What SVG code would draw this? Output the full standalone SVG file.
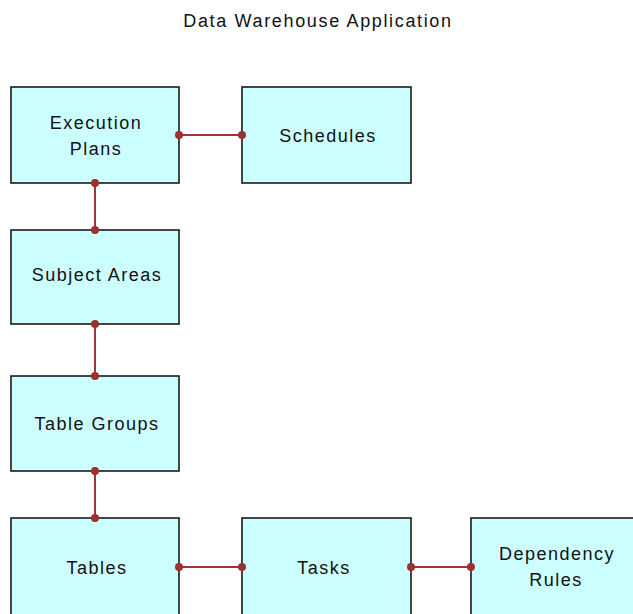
<svg xmlns="http://www.w3.org/2000/svg" width="633" height="614" viewBox="0 0 633 614">
<style>
.box{fill:#ccffff;stroke:#1a1a1a;stroke-width:1.6}
.lbl{font-family:"Liberation Sans",Arial,sans-serif;font-size:18px;letter-spacing:1.5px;fill:#111;text-anchor:middle}
.ttl{font-family:"Liberation Sans",Arial,sans-serif;font-size:18px;letter-spacing:1.65px;fill:#111;text-anchor:middle}
.con{stroke:#a03535;stroke-width:2;fill:none}
.dot{fill:#9a3030}
</style>
<rect width="633" height="614" fill="#ffffff"/>
<text class="ttl" x="318" y="27">Data Warehouse Application</text>
<g id="execution-plans">
<rect class="box" x="11" y="87" width="168" height="96"/>
<text class="lbl" x="96" y="129">Execution</text>
<text class="lbl" x="96" y="155">Plans</text>
</g>
<g id="schedules">
<rect class="box" x="242" y="87" width="169" height="96"/>
<text class="lbl" x="328" y="142">Schedules</text>
</g>
<g id="subject-areas">
<rect class="box" x="11" y="230" width="168" height="94"/>
<text class="lbl" x="97" y="281">Subject Areas</text>
</g>
<g id="table-groups">
<rect class="box" x="11" y="376" width="168" height="95"/>
<text class="lbl" x="97" y="430">Table Groups</text>
</g>
<g id="tables">
<rect class="box" x="11" y="518" width="168" height="100"/>
<text class="lbl" x="97" y="574">Tables</text>
</g>
<g id="tasks">
<rect class="box" x="242" y="518" width="169" height="100"/>
<text class="lbl" x="324" y="574">Tasks</text>
</g>
<g id="dependency-rules">
<rect class="box" x="471" y="518" width="168" height="100"/>
<text class="lbl" x="557" y="560">Dependency</text>
<text class="lbl" x="556" y="586">Rules</text>
</g>
<g id="connectors">
<line class="con" x1="179" y1="135" x2="242" y2="135"/>
<circle class="dot" cx="179" cy="135" r="4"/><circle class="dot" cx="242" cy="135" r="4"/>
<line class="con" x1="95" y1="183" x2="95" y2="230"/>
<circle class="dot" cx="95" cy="183" r="4"/><circle class="dot" cx="95" cy="230" r="4"/>
<line class="con" x1="95" y1="324" x2="95" y2="376"/>
<circle class="dot" cx="95" cy="324" r="4"/><circle class="dot" cx="95" cy="376" r="4"/>
<line class="con" x1="95" y1="471" x2="95" y2="518"/>
<circle class="dot" cx="95" cy="471" r="4"/><circle class="dot" cx="95" cy="518" r="4"/>
<line class="con" x1="179" y1="567" x2="242" y2="567"/>
<circle class="dot" cx="179" cy="567" r="4"/><circle class="dot" cx="242" cy="567" r="4"/>
<line class="con" x1="411" y1="567" x2="471" y2="567"/>
<circle class="dot" cx="411" cy="567" r="4"/><circle class="dot" cx="471" cy="567" r="4"/>
</g>
</svg>
